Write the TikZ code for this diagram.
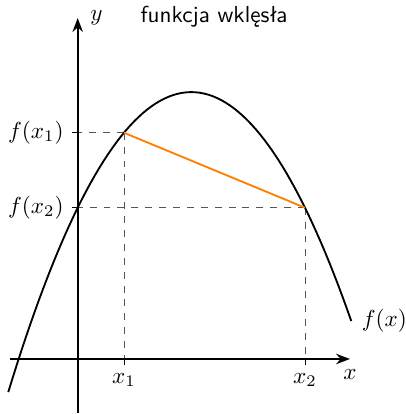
\documentclass[tikz,border=0pt]{standalone}
\usepackage{fontspec}
\usepackage{tikz}
\usetikzlibrary{arrows.meta}
\definecolor{chordorange}{HTML}{FF8000}
\definecolor{guidegray}{HTML}{555555}
\tikzset{
  axisline/.style={thick,-{Stealth[length=6pt,width=4.5pt]}},
  guideline/.style={dashed,guidegray},
  tickline/.style={thin},
  curveline/.style={thick},
  chordline/.style={thick,chordorange}
}

\begin{document}
\begin{tikzpicture}[x=0.69cm,y=0.69cm]
    \useasboundingbox (-1.709,-1.21) rectangle (7.222,7.897);
    \coordinate (O) at (0,0);
    \coordinate (xl) at (-1.49,0);
    \coordinate (xr) at (5.99,0);
    \coordinate (yb) at (0,-1.19);
    \coordinate (yt) at (0,7.50);
    \coordinate (A) at (1.018,{5.871-0.4069*(1.018-2.5)^2});
    \coordinate (B) at (5.0,{5.871-0.4069*(5.0-2.5)^2});
    \draw[guideline] (A) -- (A -| O);
    \draw[guideline] (A) -- (A |- O);
    \draw[guideline] (B) -- (B -| O);
    \draw[guideline] (B) -- (B |- O);
    \draw[curveline,domain=-1.527:6.018,samples=80] plot (\x,{5.871-0.4069*(\x-2.5)^2}) coordinate (fend);
    \draw[chordline] (A) -- (B);
    \draw[axisline] (xl) -- (xr);
    \draw[axisline] (yb) -- (yt);
    \draw[tickline] (A |- O) -- ++(0,-0.13) node (lx1) [below] {$x_1$};
    \draw[tickline] (B |- O) -- ++(0,-0.13) node (lx2) [below] {$x_2$};
    \draw[tickline] (A -| O) -- ++(-0.13,0) node (lfx1) [left] {$f(x_1)$};
    \draw[tickline] (B -| O) -- ++(-0.13,0) node (lfx2) [left] {$f(x_2)$};
    \node (lx) [below,yshift=-1pt] at (xr) {$x$};
    \node (ly) [right,xshift=2pt] at (yt) {$y$};
    \node (lf) [right,xshift=1pt] at (fend) {$f(x)$};
    \node (title) at (3.0,7.52) {\sffamily funkcja wklęsła};
  \end{tikzpicture}
\end{document}
